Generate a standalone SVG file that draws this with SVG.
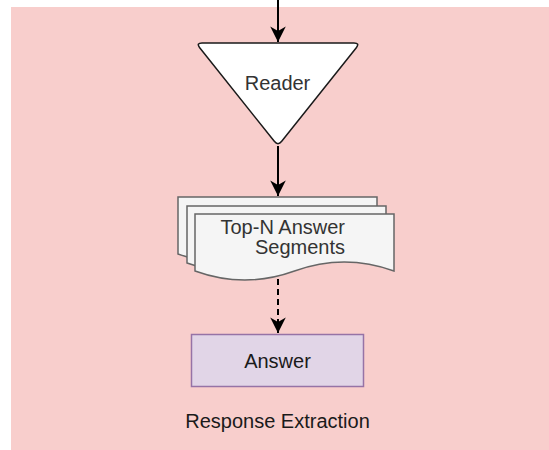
<svg xmlns="http://www.w3.org/2000/svg" width="549" height="450" viewBox="0 0 549 450">
<style>
.lbl{font-family:"Liberation Sans",Arial,sans-serif;font-size:20px;}
.edge{fill:none;stroke:#000;stroke-width:2;}
.doc{fill:#f5f5f5;stroke:#666;stroke-width:1.5;}
</style>
<defs>
<marker id="arr" markerUnits="userSpaceOnUse" markerWidth="20" markerHeight="20" viewBox="-16 -8 18 16" refX="0" refY="0" orient="auto">
<path d="M0,0 L-14,-7 L-10,0 L-14,7 Z" fill="#000"/>
</marker>
</defs>
<g id="background">
<rect x="11" y="7" width="538" height="443" fill="#f8cecc"/>
</g>
<g id="connectors">
<path class="edge" d="M278,0 L278,42" marker-end="url(#arr)"/>
<path class="edge" d="M278,146 L278,196" marker-end="url(#arr)"/>
<path class="edge" d="M278,279 L278,333" stroke-dasharray="6 4" marker-end="url(#arr)"/>
</g>
<g id="reader">
<path d="M202,43 L354,43 Q360,43 356.3,47.7 L281.7,141.3 Q278,146 274.3,141.3 L199.7,47.7 Q196,43 202,43 Z" fill="#fff" stroke="#1a1a1a" stroke-width="1.5" stroke-linejoin="round"/>
<text class="lbl" x="277.5" y="90" text-anchor="middle" fill="#333">Reader</text>
</g>
<g id="segments">
<path class="doc" d="M178,197 L377,197 L377,254 Q327.25,236 277.5,254 Q227.75,272 178,254 Z"/>
<path class="doc" d="M187,206 L386,206 L386,263 Q336.25,245 286.5,263 Q236.75,281 187,263 Z"/>
<path class="doc" d="M195,214 L394,214 L394,271 Q344.25,253 294.5,271 Q244.75,289 195,271 Z"/>
<text class="lbl" x="345" y="234" text-anchor="end" fill="#333">Top-N Answer</text>
<text class="lbl" x="345" y="254" text-anchor="end" fill="#333">Segments</text>
</g>
<g id="answer">
<rect x="191.5" y="334.5" width="172" height="52" fill="#e1d5e7" stroke="#9673a6" stroke-width="1.5"/>
<text class="lbl" x="277.5" y="368" text-anchor="middle" fill="#1a1a1a">Answer</text>
</g>
<g id="title">
<text class="lbl" x="277.5" y="428" text-anchor="middle" fill="#1a1a1a" font-size="19.5">Response Extraction</text>
</g>
</svg>
